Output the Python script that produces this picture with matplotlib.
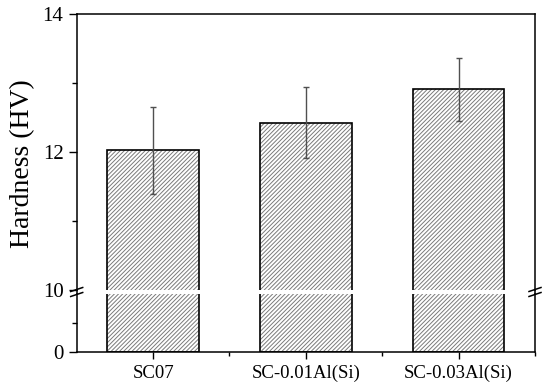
import matplotlib
matplotlib.use("Agg")
import matplotlib.pyplot as plt
from matplotlib.lines import Line2D

plt.rcParams["font.family"] = ["Liberation Serif", "DejaVu Serif"]
plt.rcParams["hatch.linewidth"] = 0.7

# data
samples = ["SC07", "SC-0.01Al(Si)", "SC-0.03Al(Si)"]
hardness = [12.03, 12.43, 12.91]
hardness_err = [0.63, 0.52, 0.46]

W, H = 550, 388
fig = plt.figure(figsize=(5.5, 3.88), dpi=100)

# axes geometry in pixels (from top-left)
x0, x1 = 76.7, 535.0
top_y0, top_y1 = 14.3, 290.0
bot_y0, bot_y1 = 294.0, 352.0

def frac(xa, xb, ya, yb):
    return [xa / W, (H - yb) / H, (xb - xa) / W, (yb - ya) / H]

ax_top = fig.add_axes(frac(x0, x1, top_y0, top_y1))
ax_bot = fig.add_axes(frac(x0, x1, bot_y0, bot_y1))

pos = list(range(1, len(samples) + 1))
for ax in (ax_top, ax_bot):
    ax.bar(pos, hardness, width=0.6, color="white", edgecolor="#7a7a7a",
           hatch="////////", linewidth=0, zorder=2)
    ax.bar(pos, hardness, width=0.6, fill=False, edgecolor="black",
           linewidth=1.2, zorder=3)
    ax.set_xlim(0.5, 3.5)
    for s in ("left", "right", "top", "bottom"):
        ax.spines[s].set_linewidth(1.1)

ax_top.errorbar(pos, hardness, yerr=hardness_err, fmt="none", ecolor="#505050",
                elinewidth=1.0, capsize=2.5, capthick=1.0, zorder=4)

# upper part
ax_top.set_ylim(10, 14)
ax_top.set_yticks([10, 12, 14])
ax_top.set_yticks([11, 13], minor=True)
ax_top.spines["bottom"].set_visible(False)
ax_top.tick_params(axis="x", which="both", bottom=False, labelbottom=False)
ax_top.tick_params(axis="y", which="major", length=6, width=1.0, labelsize=15)
ax_top.tick_params(axis="y", which="minor", length=3.5, width=1.0)

# lower part
ax_bot.set_ylim(0, 10)
ax_bot.set_yticks([0])
ax_bot.set_yticks([5], minor=True)
ax_bot.spines["top"].set_visible(False)
ax_bot.set_xticks(pos)
ax_bot.set_xticklabels(samples)
ax_bot.set_xticks([1.5, 2.5, 3.5], minor=True)
ax_bot.tick_params(axis="y", which="major", length=6, width=1.0, labelsize=15)
ax_bot.tick_params(axis="y", which="minor", length=3.5, width=1.0)
ax_bot.tick_params(axis="x", which="major", length=5, width=1.0, labelsize=13.5, pad=4)
ax_bot.tick_params(axis="x", which="minor", length=3, width=1.0)

ax_top.set_ylabel("Hardness (HV)", fontsize=20)
ax_top.yaxis.set_label_coords(-0.09, 0.457)

# fill spine gap and draw break marks (figure pixel coords)
def fig_line(xs, ys, **kw):
    fig.add_artist(Line2D([x / W for x in xs], [(H - y) / H for y in ys],
                          transform=fig.transFigure, color="black", **kw))

for xs in (x0, x1):
    fig_line([xs, xs], [top_y1, bot_y0], linewidth=1.1)
    fig_line([xs - 6, xs + 6], [291.5, 287.5], linewidth=1.1)
    fig_line([xs - 6, xs + 6], [296.5, 292.5], linewidth=1.1)

fig.savefig("out.png", dpi=100)
plt.close(fig)
